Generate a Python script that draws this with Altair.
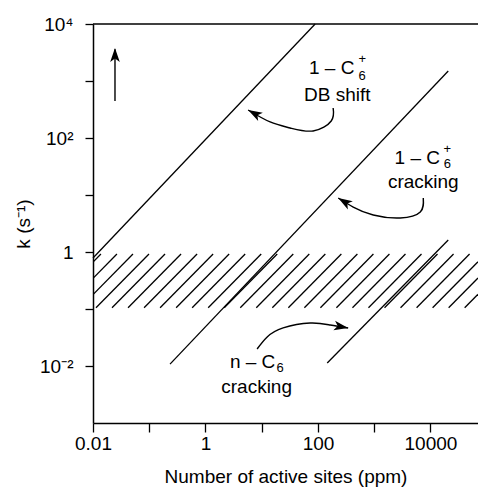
import altair as alt
import numpy as np
import pandas as pd

FONT = "Liberation Sans"

# ---------------- axes ----------------
x_ticks = [0.01, 0.1, 1, 10, 100, 1000, 10000]
x_labels = ["0.01", "", "1", "", "100", "", "10000"]
y_ticks = [0.01, 0.1, 1, 10, 100, 1000, 10000]
y_labels = ["10⁻²", "", "1", "", "10²", "", "10⁴"]
x_domain = [0.01, 70000]
y_domain = [0.001, 10000]
x_title = "Number of active sites (ppm)"
y_title = "k (s⁻¹)"

# ---------------- straight lines (k vs number of sites) ----------------
line_names = ["1-C6+ DB shift", "1-C6+ cracking", "n-C6 cracking"]
line_x_start = [0.01, 0.234, 146]
line_y_start = [0.785, 0.0108, 0.0113]
line_x_end = [89, 20700, 20700]
line_y_end = [10000, 1500, 1.62]

# ---------------- hatched band ----------------
band_low = 0.105
band_high = 0.92
hatch_first_log_x = -1.662     # log10 N where first full hatch stroke starts
hatch_step_log_x = 0.285       # spacing of the hatch strokes (decades)

# ---------------- curved arrows (id, N, k) ----------------
arrow_db_x = [186, 172, 82, 32, 14.1, 5.73]
arrow_db_y = [336, 199, 133, 150, 191, 310]
arrow_cr_x = [7450, 6590, 2900, 960, 423, 229]
arrow_cr_y = [8.85, 5.04, 3.95, 4.46, 6.15, 8.85]
arrow_n_x = [8.28, 12.5, 24.0, 72.6, 165, 344]
arrow_n_y = [0.0199, 0.0323, 0.0465, 0.0568, 0.0524, 0.0465]
arrow_up_x = [0.0246, 0.0246]
arrow_up_y = [446, 3600]

# arrow heads: tip positions and direction (deg, clockwise from up)
head_x = [5.73, 229, 344, 0.0246]
head_y = [310, 8.85, 0.0465, 3800]
head_angle = [299, 301, 100, 0]

# ---------------- labels ----------------
main_text = ["1 – C", "DB shift", "1 – C", "cracking", "n – C", "cracking"]
main_x = [175, 220, 5820, 7450, 6.89, 8.11]
main_y = [1690, 567, 44.6, 16.9, 0.01175, 0.00428]
small_text = ["6", "+", "6", "+", "6"]
small_x = [611, 611, 19900, 19900, 21.2]
small_y = [1200, 2400, 34.5, 63.0, 0.00923]

# ================= build tables =================
lines_df = pd.DataFrame({"name": line_names, "x": line_x_start, "y": line_y_start,
                         "x2": line_x_end, "y2": line_y_end})

lx_min, lx_max = np.log10(x_domain[0]), np.log10(x_domain[1])
ly_lo, ly_hi = np.log10(band_low), np.log10(band_high)
span = ly_hi - ly_lo
rows = []
b = hatch_first_log_x
while b - hatch_step_log_x + span > lx_min:
    b -= hatch_step_log_x
while b < lx_max:
    xa, ya = b, ly_lo
    xb, yb = b + span, ly_hi
    if xa < lx_min:
        ya = ya + (lx_min - xa)
        xa = lx_min
    if xb > lx_max:
        yb = yb - (xb - lx_max)
        xb = lx_max
    if xb > xa:
        rows.append({"x": 10 ** xa, "y": 10 ** ya, "x2": 10 ** xb, "y2": 10 ** yb})
    b += hatch_step_log_x
hatch_df = pd.DataFrame(rows)

curves = []
for aid, xs_, ys_ in [("db", arrow_db_x, arrow_db_y), ("cr", arrow_cr_x, arrow_cr_y),
                      ("n", arrow_n_x, arrow_n_y), ("up", arrow_up_x, arrow_up_y)]:
    for i, (xv, yv) in enumerate(zip(xs_, ys_)):
        curves.append({"id": aid, "i": i, "x": xv, "y": yv})
curves_df = pd.DataFrame(curves)
heads_df = pd.DataFrame({"x": head_x, "y": head_y, "angle": head_angle})
main_df = pd.DataFrame({"t": main_text, "x": main_x, "y": main_y})
small_df = pd.DataFrame({"t": small_text, "x": small_x, "y": small_y})
top_df = pd.DataFrame({"x": [x_domain[0]], "x2": [x_domain[1]], "y": [y_domain[1]]})

# ================= scales / axes =================
xs = alt.Scale(type="log", domain=x_domain, nice=False)
ys = alt.Scale(type="log", domain=y_domain, nice=False)

x_axis = alt.Axis(values=x_ticks,
                  labelExpr="%s[round(log(datum.value)/LN10)+2]" % str(x_labels),
                  grid=False, tickSize=9, tickWidth=1.3, tickColor="black",
                  domainColor="black", domainWidth=1.5, labelFont=FONT, labelFontSize=19,
                  labelColor="black", labelPadding=2, labelFlush=False, labelOverlap=False,
                  labelBound=False, title=x_title, titleFont=FONT, titleFontSize=19,
                  titleFontWeight="normal", titleColor="black", titlePadding=14)
y_axis = alt.Axis(values=y_ticks,
                  labelExpr="%s[round(log(datum.value)/LN10)+2]" % str(y_labels),
                  grid=False, tickSize=8, tickWidth=1.3, tickColor="black",
                  domainColor="black", domainWidth=1.5, labelFont=FONT, labelFontSize=19,
                  labelColor="black", labelPadding=12, labelFlush=False, labelOverlap=False,
                  labelBound=False, title=y_title, titleFont=FONT, titleFontSize=19,
                  titleFontWeight="normal", titleColor="black", titlePadding=6)

X = alt.X("x:Q", scale=xs, axis=x_axis)
Y = alt.Y("y:Q", scale=ys, axis=y_axis)

lines = alt.Chart(lines_df).mark_rule(color="black", strokeWidth=1.3).encode(
    x=X, y=Y, x2="x2:Q", y2="y2:Q")
hatch = alt.Chart(hatch_df).mark_rule(color="black", strokeWidth=1.3, clip=True).encode(
    x=X, y=Y, x2="x2:Q", y2="y2:Q")
top = alt.Chart(top_df).mark_rule(color="black", strokeWidth=1.5).encode(
    x=X, x2="x2:Q", y=Y)
curve = alt.Chart(curves_df).mark_line(color="black", strokeWidth=1.4,
                                       interpolate="natural").encode(
    x=X, y=Y, detail="id:N", order="i:Q")
heads = alt.Chart(heads_df).mark_point(
    shape="M0,0 L0.34,1 L0,0.75 L-0.34,1 Z", filled=True, color="black",
    size=800, opacity=1, strokeWidth=0).encode(
    x=X, y=Y, angle=alt.Angle("angle:Q", scale=None))
mtext = alt.Chart(main_df).mark_text(font=FONT, fontSize=19, color="black",
                                     baseline="middle", align="center").encode(
    x=X, y=Y, text="t:N")
stext = alt.Chart(small_df).mark_text(font=FONT, fontSize=13, color="black",
                                      baseline="middle", align="center").encode(
    x=X, y=Y, text="t:N")

chart = alt.layer(lines, hatch, top, curve, heads, mtext, stext).properties(
    width=385, height=399,
    autosize=alt.AutoSizeParams(type="none"),
    padding={"left": 93, "top": 24, "right": 0, "bottom": 69},
).configure_view(stroke=None)

chart.save("out.html", embed_options={"renderer": "svg", "actions": False})
